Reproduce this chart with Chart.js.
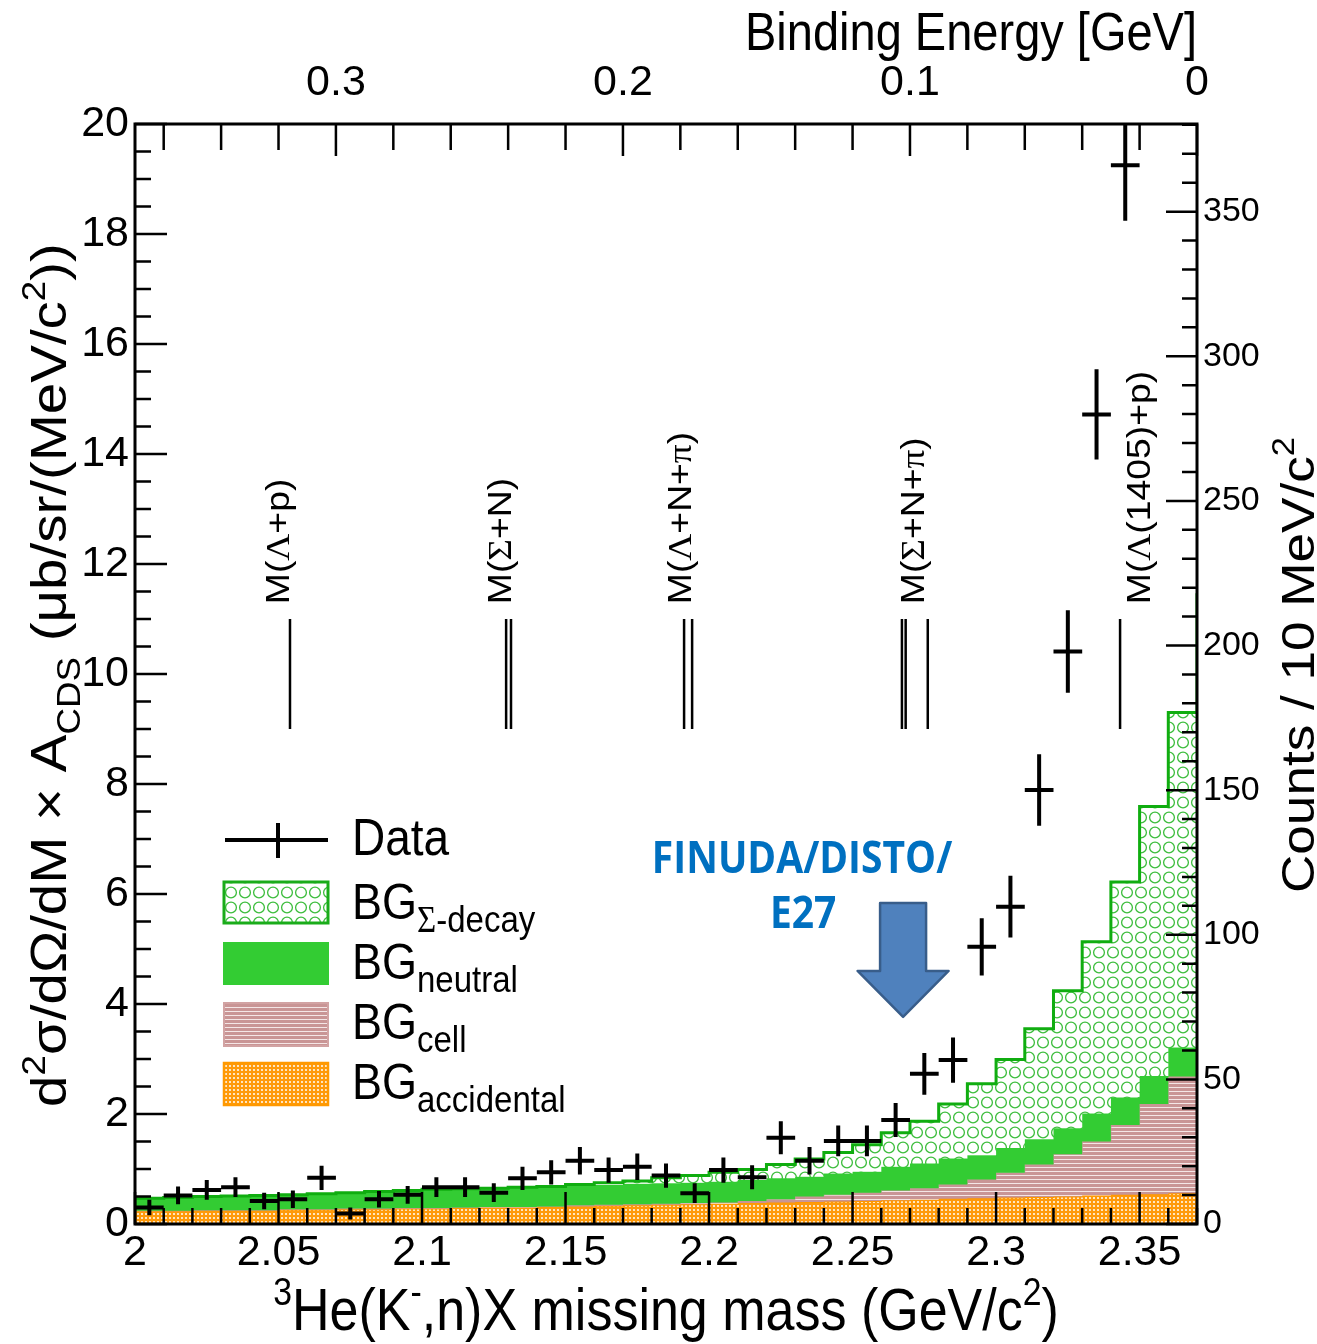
<!DOCTYPE html>
<html><head><meta charset="utf-8">
<script src="https://cdn.jsdelivr.net/npm/chart.js"></script>
<style>html,body{margin:0;padding:0;background:#fff}canvas{display:block}</style>
</head><body>
<canvas id="c" width="1317" height="1344"></canvas>
<script>
// ---------------- data ----------------
const binEdges = [2.00,2.01,2.02,2.03,2.04,2.05,2.06,2.07,2.08,2.09,2.10,2.11,2.12,2.13,2.14,2.15,2.16,2.17,2.18,2.19,2.20,2.21,2.22,2.23,2.24,2.25,2.26,2.27,2.28,2.29,2.30,2.31,2.32,2.33,2.34,2.35,2.36,2.37];

// stacked tops of the background histograms (cumulative, cross-section units)
const stackAccidental = [0.24,0.24,0.25,0.25,0.25,0.26,0.26,0.27,0.27,0.28,0.28,0.29,0.30,0.30,0.31,0.32,0.33,0.34,0.35,0.36,0.37,0.38,0.39,0.40,0.41,0.42,0.43,0.44,0.46,0.47,0.48,0.49,0.50,0.52,0.53,0.54,0.56];
const stackCell       = [0.24,0.24,0.25,0.25,0.25,0.27,0.27,0.28,0.28,0.29,0.29,0.30,0.31,0.31,0.32,0.34,0.35,0.36,0.37,0.38,0.39,0.42,0.45,0.50,0.53,0.57,0.61,0.65,0.72,0.81,0.93,1.08,1.27,1.50,1.80,2.18,2.68];
const stackNeutral    = [0.47,0.48,0.50,0.51,0.52,0.53,0.55,0.57,0.59,0.61,0.63,0.64,0.65,0.67,0.68,0.70,0.71,0.73,0.74,0.75,0.77,0.80,0.83,0.86,0.92,0.95,1.04,1.10,1.19,1.25,1.38,1.54,1.74,2.01,2.30,2.69,3.21];
// last entry = next (overflow) bin, only its left edge is visible at the frame
const stackSigma      = [0.47,0.48,0.50,0.51,0.52,0.53,0.55,0.57,0.59,0.61,0.63,0.64,0.65,0.67,0.68,0.72,0.75,0.78,0.84,0.88,0.94,0.99,1.08,1.18,1.30,1.44,1.66,1.87,2.18,2.55,2.99,3.55,4.24,5.13,6.22,7.59,9.30,11.47];

// measured data points
const dataX   = [2.005,2.015,2.025,2.035,2.045,2.055,2.065,2.075,2.085,2.095,2.105,2.115,2.125,2.135,2.145,2.155,2.165,2.175,2.185,2.195,2.205,2.215,2.225,2.235,2.245,2.255,2.265,2.275,2.285,2.295,2.305,2.315,2.325,2.335,2.345];
const dataY   = [0.30,0.52,0.62,0.67,0.42,0.45,0.84,0.19,0.45,0.53,0.67,0.67,0.57,0.83,0.94,1.15,0.98,1.04,0.88,0.56,0.98,0.85,1.57,1.15,1.51,1.51,1.89,2.73,2.98,5.04,5.77,7.89,10.41,14.72,19.25];
const dataErr = [0.14,0.16,0.18,0.18,0.15,0.16,0.22,0.11,0.15,0.16,0.18,0.18,0.17,0.21,0.22,0.25,0.23,0.24,0.22,0.18,0.23,0.22,0.30,0.25,0.28,0.28,0.31,0.38,0.41,0.52,0.56,0.65,0.75,0.82,1.01];
const halfBin = 0.005;

// threshold markers
const thresholdMasses = [[2.0540],[2.1293,2.1310],[2.1913,2.1941],[2.2672,2.2685,2.2762],[2.3432]];
const thresholdLabelX = [2.0537,2.1310,2.1937,2.2749,2.3537];
const thresholdLineRange = [9.0, 11.0];
const thresholdLabelY = 11.27;

// axes
const massMin = 2.0, massMax = 2.37;
const massTicks = [2,2.05,2.1,2.15,2.2,2.25,2.3,2.35];
const massTickLabels = ['2','2.05','2.1','2.15','2.2','2.25','2.3','2.35'];
const bindingMax = 0.37;
const bindingTicks = [0.3,0.2,0.1,0];
const bindingTickLabels = ['0.3','0.2','0.1','0'];
const xsecMax = 20;
const xsecTicks = [0,2,4,6,8,10,12,14,16,18,20];
const xsecTickLabels = ['0','2','4','6','8','10','12','14','16','18','20'];
const countsMax = 380.3;
const countTicks = [0,50,100,150,200,250,300,350];
const countTickLabels = ['0','50','100','150','200','250','300','350'];

// ---------------- styling helpers ----------------
const FONT = "'Liberation Sans', Arial, sans-serif";
const SERIF = "'Liberation Serif', 'Times New Roman', serif";
const STRETCH = 1.13;

function makePattern(w, h, draw) {
  const c = document.createElement('canvas'); c.width = w; c.height = h;
  const g = c.getContext('2d'); draw(g);
  return g.createPattern(c, 'repeat');
}
const sigmaPat = makePattern(14, 15, g => {
  g.fillStyle = '#ffffff'; g.fillRect(0, 0, 14, 15);
  g.strokeStyle = '#3dbd3d'; g.lineWidth = 1.3;
  g.beginPath(); g.arc(7, 7.5, 5.4, 0, Math.PI * 2); g.stroke();
});
const cellPat = makePattern(4, 4, g => {
  g.fillStyle = '#c99595'; g.fillRect(0, 0, 4, 4);
  g.fillStyle = '#f4e6e6'; g.fillRect(0, 3, 4, 1);
});
const accPat = makePattern(4, 4, g => {
  g.fillStyle = '#ff9a0a'; g.fillRect(0, 0, 4, 4);
  g.fillStyle = '#ffe6c0'; g.fillRect(1, 1, 2, 2);
});
const NEUTRAL = '#33cc33';

function rich(ctx, segs, x, y, size, o = {}) {
  const align = o.align || 'left';
  ctx.save();
  ctx.translate(x, y); ctx.scale(1, STRETCH); if (o.rot) ctx.rotate(o.rot);
  ctx.textBaseline = 'alphabetic'; ctx.textAlign = 'left'; ctx.fillStyle = o.color || '#000';
  const fontOf = s => `${o.weight || 'normal'} ${s.size ? s.size : (s.sup || s.sub) ? size * 0.65 : size}px ${s.f || o.family || FONT}`;
  let w = 0;
  for (const s of segs) { ctx.font = fontOf(s); w += ctx.measureText(s.t).width; }
  let cx = align === 'center' ? -w / 2 : align === 'right' ? -w : 0;
  for (const s of segs) {
    ctx.font = fontOf(s);
    const dy = s.dy !== undefined ? s.dy : s.sup ? -size * 0.42 : s.sub ? size * 0.27 : 0;
    ctx.fillText(s.t, cx, dy);
    cx += ctx.measureText(s.t).width;
  }
  ctx.restore();
}

// ---------------- build datasets ----------------
function histPoints(tops) {
  const n = binEdges.length - 1, pts = [];
  for (let i = 0; i < n; i++) pts.push({x: binEdges[i], y: tops[i]});
  pts.push({x: binEdges[n], y: tops.length > n ? tops[n] : tops[n - 1]});
  return pts;
}
const crossPts = [];
dataX.forEach((x, i) => {
  const y = dataY[i], e = dataErr[i];
  crossPts.push({x: x - halfBin, y}, {x: x + halfBin, y}, {x, y: null},
                {x, y: y - e}, {x, y: y + e}, {x, y: null});
});
const thrPts = [];
thresholdMasses.flat().forEach(m => {
  thrPts.push({x: m, y: thresholdLineRange[0]}, {x: m, y: thresholdLineRange[1]}, {x: m, y: null});
});

// ---------------- plugins ----------------
const axisTicks = {
  id: 'axisTicks',
  afterDatasetsDraw(chart) {
    const {ctx, chartArea: a} = chart;
    const sx = chart.scales.x, st = chart.scales.xTop, sy = chart.scales.y, sr = chart.scales.yRight;
    ctx.save();
    ctx.strokeStyle = '#000'; ctx.lineWidth = 2.5; ctx.lineCap = 'butt';
    ctx.beginPath();
    for (let k = 0; k <= 37; k++) { const p = sx.getPixelForValue(2 + k * 0.01); const L = k % 5 === 0 ? 32 : 16; ctx.moveTo(p, a.bottom); ctx.lineTo(p, a.bottom - L); }
    for (let k = 0; k <= 18; k++) { const p = st.getPixelForValue(k * 0.02); const L = k % 5 === 0 ? 32 : 26; ctx.moveTo(p, a.top); ctx.lineTo(p, a.top + L); }
    for (let k = 0; k <= 40; k++) { const p = sy.getPixelForValue(k * 0.5); const L = k % 4 === 0 ? 32 : 16; ctx.moveTo(a.left, p); ctx.lineTo(a.left + L, p); }
    for (let k = 0; k <= 38; k++) { const p = sr.getPixelForValue(k * 10); const L = k % 5 === 0 ? 31 : 15; ctx.moveTo(a.right, p); ctx.lineTo(a.right - L, p); }
    ctx.stroke();
    ctx.lineWidth = 3;
    ctx.strokeRect(a.left, a.top, a.right - a.left, a.bottom - a.top);
    ctx.restore();
  }
};

const thrLabelSegs = [
  [{t: 'M('}, {t: 'Λ', f: SERIF}, {t: '+p)'}],
  [{t: 'M('}, {t: 'Σ', f: SERIF}, {t: '+N)'}],
  [{t: 'M('}, {t: 'Λ', f: SERIF}, {t: '+N+'}, {t: 'π', f: SERIF}, {t: ')'}],
  [{t: 'M('}, {t: 'Σ', f: SERIF}, {t: '+N+'}, {t: 'π', f: SERIF}, {t: ')'}],
  [{t: 'M('}, {t: 'Λ', f: SERIF}, {t: '(1405)+p)'}]
];

const decorations = {
  id: 'decorations',
  afterDraw(chart) {
    const {ctx} = chart;
    const sx = chart.scales.x, sy = chart.scales.y;
    // threshold labels
    thrLabelSegs.forEach((segs, i) => {
      rich(ctx, segs, sx.getPixelForValue(thresholdLabelX[i]), sy.getPixelForValue(thresholdLabelY), 33, {rot: -Math.PI / 2});
    });
    // legend
    ctx.save();
    ctx.strokeStyle = '#000'; ctx.lineWidth = 4;
    ctx.beginPath(); ctx.moveTo(225, 840); ctx.lineTo(328, 840); ctx.moveTo(278, 823); ctx.lineTo(278, 858); ctx.stroke();
    ctx.fillStyle = sigmaPat; ctx.fillRect(224, 882, 104, 41);
    ctx.strokeStyle = '#1aac1a'; ctx.lineWidth = 3; ctx.strokeRect(224, 882, 104, 41);
    ctx.fillStyle = NEUTRAL; ctx.fillRect(223, 942, 106, 43);
    ctx.fillStyle = cellPat; ctx.fillRect(224, 1003, 104, 43);
    ctx.strokeStyle = '#d2a3a3'; ctx.lineWidth = 2; ctx.strokeRect(224, 1003, 104, 43);
    ctx.fillStyle = accPat; ctx.fillRect(224, 1063, 104, 42);
    ctx.strokeStyle = '#ff9900'; ctx.lineWidth = 2.5; ctx.strokeRect(224, 1063, 104, 42);
    ctx.restore();
    rich(ctx, [{t: 'Data'}], 352, 855, 46);
    const subs = [
      [{t: 'Σ', f: SERIF, size: 33, dy: 11.5}, {t: '-decay', size: 33, dy: 11.5}],
      [{t: 'neutral', size: 33, dy: 11.5}],
      [{t: 'cell', size: 33, dy: 11.5}],
      [{t: 'accidental', size: 33, dy: 11.5}]
    ];
    [919, 979, 1039, 1099].forEach((yb, i) => rich(ctx, [{t: 'BG'}, ...subs[i]], 352, yb, 45));
    // FINUDA / DISTO / E27 annotation
    rich(ctx, [{t: 'FINUDA/DISTO/'}], sx.getPixelForValue(2.2324), sy.getPixelForValue(6.38), 39, {align: 'center', weight: 'bold', family: "'Open Sans', sans-serif", color: '#0070c0'});
    rich(ctx, [{t: 'E27'}], sx.getPixelForValue(2.2328), sy.getPixelForValue(5.38), 39, {align: 'center', weight: 'bold', family: "'Open Sans', sans-serif", color: '#0070c0'});
    const tx = sx.getPixelForValue(2.2676), ty = sy.getPixelForValue(3.764);
    ctx.save();
    ctx.beginPath();
    ctx.moveTo(tx - 23, ty - 114); ctx.lineTo(tx + 23, ty - 114); ctx.lineTo(tx + 23, ty - 46);
    ctx.lineTo(tx + 45.5, ty - 46); ctx.lineTo(tx, ty); ctx.lineTo(tx - 45.5, ty - 46);
    ctx.lineTo(tx - 23, ty - 46); ctx.closePath();
    ctx.fillStyle = '#4f81bd'; ctx.fill();
    ctx.strokeStyle = '#385d8a'; ctx.lineWidth = 2.5; ctx.lineJoin = 'round'; ctx.stroke();
    ctx.restore();
    // axis titles
    rich(ctx, [{t: 'Binding Energy [GeV]'}], 1197, 50, 47, {align: 'right'});
    rich(ctx, [{t: '3', sup: true}, {t: 'He(K'}, {t: '-', sup: true}, {t: ',n)X missing mass (GeV/c'}, {t: '2', sup: true}, {t: ')'}], 666, 1330, 52, {align: 'center'});
    rich(ctx, [{t: 'd'}, {t: '2', sup: true}, {t: 'σ/dΩ/dM × A'}, {t: 'CDS', sub: true}, {t: ' (μb/sr/(MeV/c'}, {t: '2', sup: true}, {t: '))'}], 66, 675, 50, {align: 'center', rot: -Math.PI / 2});
    rich(ctx, [{t: 'Counts / 10 MeV/c'}, {t: '2', sup: true}], 1314, 665, 47, {align: 'center', rot: -Math.PI / 2});
  }
};

// ---------------- chart ----------------
const tickFont = {family: FONT, size: 43};
const noGrid = {display: false, drawTicks: false};
new Chart(document.getElementById('c'), {
  type: 'line',
  data: {
    datasets: [
      {label: 'BG accidental', data: histPoints(stackAccidental), stepped: 'before', fill: 'origin', backgroundColor: accPat, borderColor: '#ff9900', borderWidth: 2, pointRadius: 0, order: 5},
      {label: 'BG cell', data: histPoints(stackCell), stepped: 'before', fill: '-1', backgroundColor: cellPat, borderColor: '#c99595', borderWidth: 1, pointRadius: 0, order: 4},
      {label: 'BG neutral', data: histPoints(stackNeutral), stepped: 'before', fill: '-1', backgroundColor: NEUTRAL, borderColor: NEUTRAL, borderWidth: 1, pointRadius: 0, order: 3},
      {label: 'BG Sigma-decay', data: histPoints(stackSigma), stepped: 'before', fill: '-1', backgroundColor: sigmaPat, borderColor: '#10ad10', borderWidth: 3, pointRadius: 0, order: 2},
      {label: 'thresholds', data: thrPts, borderColor: '#000', borderWidth: 2.5, pointRadius: 0, fill: false, spanGaps: false, order: 1},
      {label: 'Data', data: crossPts, borderColor: '#000', borderWidth: 4, pointRadius: 0, fill: false, spanGaps: false, borderCapStyle: 'butt', order: 0}
    ]
  },
  options: {
    responsive: false, animation: false, devicePixelRatio: 1, events: [],
    layout: {padding: 0},
    plugins: {legend: {display: false}, tooltip: {enabled: false}},
    elements: {line: {tension: 0}, point: {radius: 0}},
    scales: {
      x: {type: 'linear', position: 'bottom', min: massMin, max: massMax,
          afterFit: s => { s.height = 120; },
          afterBuildTicks: s => { s.ticks = massTicks.map(v => ({value: v})); },
          grid: noGrid, border: {display: false},
          ticks: {font: tickFont, color: '#000', padding: 3, maxRotation: 0, minRotation: 0, autoSkip: false, callback: (v, i) => massTickLabels[i]}},
      xTop: {type: 'linear', axis: 'x', position: 'top', reverse: true, min: 0, max: bindingMax,
          afterFit: s => { s.height = 124; },
          afterBuildTicks: s => { s.ticks = bindingTicks.map(v => ({value: v})); },
          grid: noGrid, border: {display: false},
          ticks: {font: tickFont, color: '#000', padding: 15, maxRotation: 0, minRotation: 0, autoSkip: false, callback: (v, i) => bindingTickLabels[i]}},
      y: {type: 'linear', position: 'left', min: 0, max: xsecMax,
          afterFit: s => { s.width = 135; },
          afterBuildTicks: s => { s.ticks = xsecTicks.map(v => ({value: v})); },
          grid: noGrid, border: {display: false},
          ticks: {font: tickFont, color: '#000', padding: 6, autoSkip: false, callback: (v, i) => xsecTickLabels[i]}},
      yRight: {type: 'linear', axis: 'y', position: 'right', min: 0, max: countsMax,
          afterFit: s => { s.width = 120; },
          afterBuildTicks: s => { s.ticks = countTicks.map(v => ({value: v})); },
          grid: noGrid, border: {display: false},
          ticks: {font: {family: FONT, size: 34}, color: '#000', padding: 6, autoSkip: false, callback: (v, i) => countTickLabels[i]}}
    }
  },
  plugins: [axisTicks, decorations]
});
</script>
</body></html>
